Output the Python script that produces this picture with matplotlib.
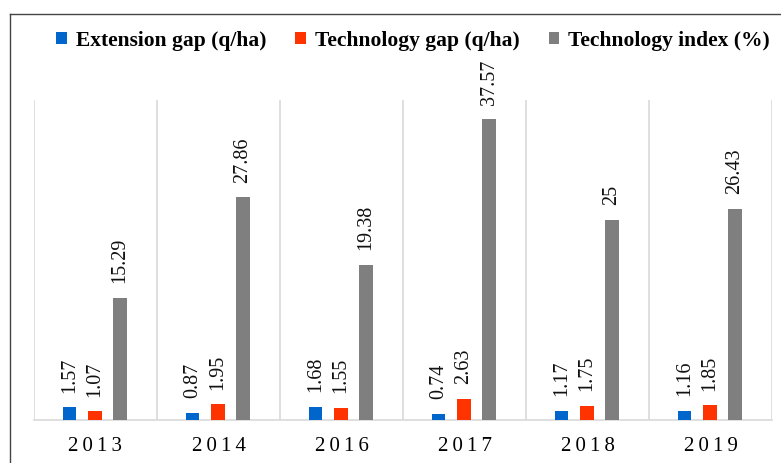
import numpy as np
import matplotlib.pyplot as plt
from matplotlib.lines import Line2D

# chart data
years = ['2013', '2014', '2016', '2017', '2018', '2019']
extension_gap = [1.57, 0.87, 1.68, 0.74, 1.17, 1.16]
technology_gap = [1.07, 1.95, 1.55, 2.63, 1.75, 1.85]
technology_index = [15.29, 27.86, 19.38, 37.57, 25, 26.43]
series_names = ['Extension gap (q/ha)', 'Technology gap (q/ha)', 'Technology index (%)']

plt.rcParams['font.family'] = ['Liberation Serif', 'DejaVu Serif']

fig = plt.figure(figsize=(7.81, 4.63), dpi=100)
W, H = 781, 463
ax = fig.add_axes([34 / W, 1 - 420 / H, 738 / W, 320 / H])

colors = ['#0066CC', '#FF3300', '#7F7F7F']
series = [extension_gap, technology_gap, technology_index]
offsets = [-0.21, -0.005, 0.20]
width = 0.11
x = np.arange(len(years))

for vals, off, col, name in zip(series, offsets, colors, series_names):
    bars = ax.bar(x + off, vals, width=width, color=col, label=name, zorder=3)
    for b, v in zip(bars, vals):
        ax.annotate(f'{v:g}', (b.get_x() + b.get_width() / 2, v),
                    xytext=(0, 10.5), textcoords='offset points',
                    rotation=90, ha='center', va='bottom', fontsize=14.5,
                    color='#111111')

ax.set_xlim(-0.5, len(years) - 0.5)
ax.set_ylim(0, 40)
ax.set_yticks([])
ax.set_xticks(x)
# years are printed with wide letter spacing
ax.set_xticklabels(['\u2009'.join(y) for y in years], fontsize=15)
ax.tick_params(axis='x', length=0, pad=12)

# category separator lines
for b in np.arange(-0.5, len(years), 1.0):
    ax.axvline(b, color='#D9D9D9', lw=1.2, zorder=1)
for s in ['top', 'left', 'right']:
    ax.spines[s].set_visible(False)
ax.spines['bottom'].set_color('#D9D9D9')
ax.spines['bottom'].set_linewidth(1.2)

# outer frame (top and left visible only)
fig.add_artist(Line2D([9.5 / W, 1.0], [1 - 13.5 / H, 1 - 13.5 / H],
                      transform=fig.transFigure, color='#444444', lw=1.0))
fig.add_artist(Line2D([9.5 / W, 9.5 / W], [0, 1 - 13.5 / H],
                      transform=fig.transFigure, color='#444444', lw=1.0))

fig.legend(loc='center', bbox_to_anchor=(413 / W, 1 - 41 / H), ncol=3,
           frameon=False, prop={'weight': 'bold', 'size': 15.5},
           handlelength=0.5, handleheight=0.5, handletextpad=0.4,
           columnspacing=1.35)

fig.savefig('out.png', dpi=100)
